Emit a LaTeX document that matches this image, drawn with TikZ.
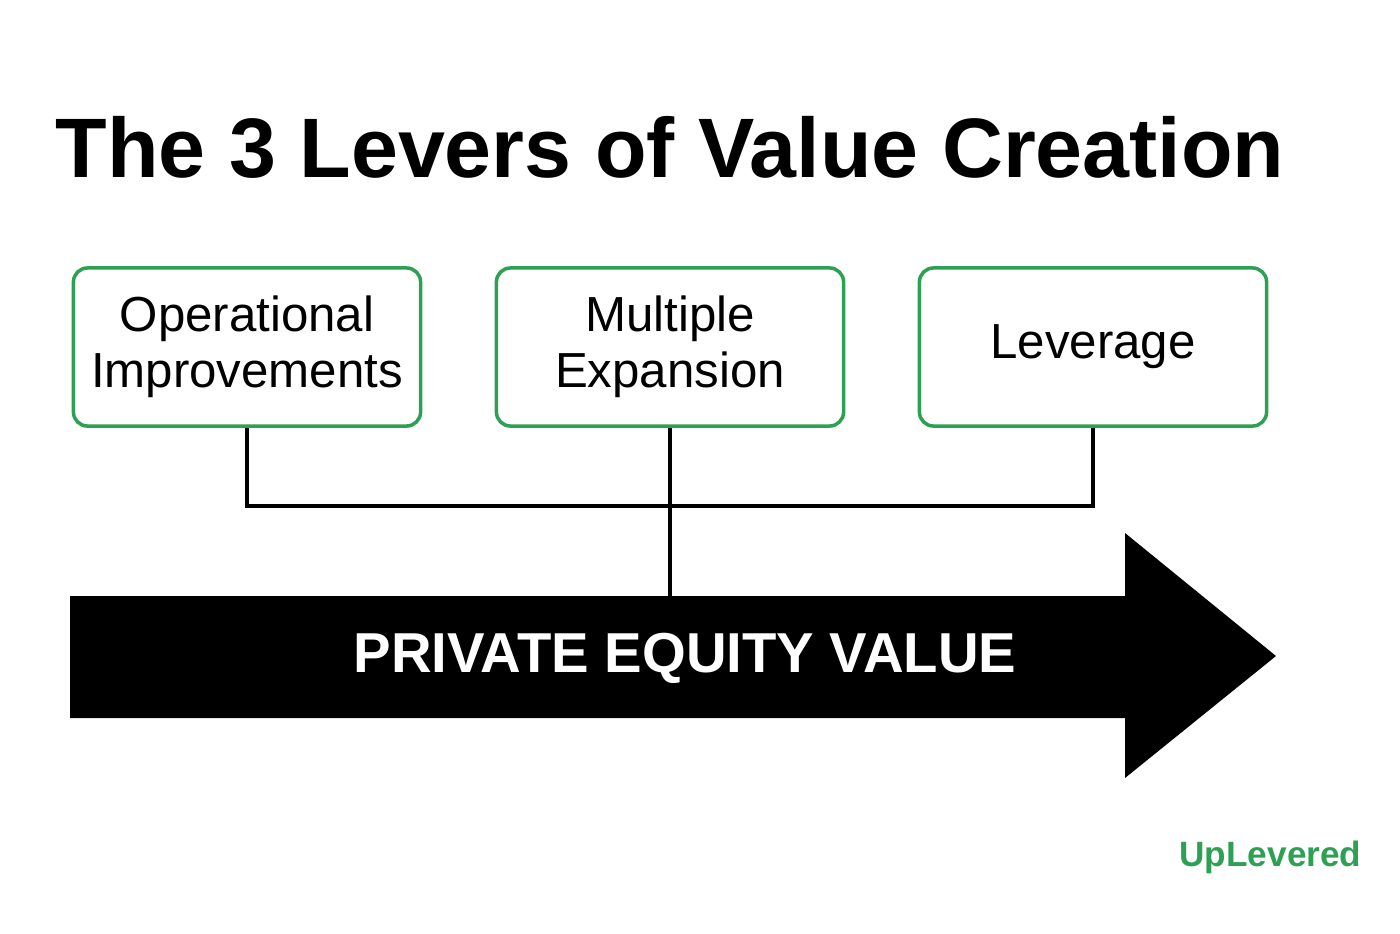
\documentclass[tikz,border=0pt]{standalone}
\usepackage{fontspec}
\setmainfont{Liberation Sans}
\usetikzlibrary{positioning}
\definecolor{levergreen}{RGB}{46,160,84}
\tikzset{
  lever/.style={draw=levergreen, line width=1pt, rounded corners=4pt,
    minimum width=3.47cm, minimum height=1.58cm, align=center,
    font=\fontsize{14}{16}\selectfont, text=black},
  link/.style={line width=0.9pt}
}
\begin{document}
\begin{tikzpicture}[x=0.01cm,y=-0.01cm]
                % canvas
                \useasboundingbox (0,0) rectangle (1400,933);

                % title
                \node[anchor=base west, inner sep=0pt, font=\bfseries\fontsize{24}{30}\selectfont] (title)
                    at (55,177) {The 3 Levers of Value Creation};

                % lever boxes
                \node[lever] (ops) at (247,347) {Operational\\Improvements};
                \node[lever] (mult) at (670,347) {Multiple\\Expansion};
                \node[lever] (lev) at (1093,347) {Leverage};

                % big arrow
                \fill (70,596) -- (1125,596) -- (1125,533) -- (1276,656)
                    -- (1125,778) -- (1125,718) -- (70,718) -- cycle;
                \node[text=white, font=\bfseries\fontsize{16}{20}\selectfont] (pe)
                    at (685,658) {PRIVATE EQUITY VALUE};
                \coordinate (arrowtop) at (670,596);

                % joining lines
                \coordinate (bus) at (670,506);
                \draw[link] (ops.south) |- (bus);
                \draw[link] (lev.south) |- (bus);
                \draw[link] (mult.south) -- (arrowtop);

                % brand
                \node[anchor=base east, inner sep=0pt, text=levergreen, font=\bfseries\fontsize{10}{13}\selectfont] (brand)
                    at (1362,866) {UpLevered};
\end{tikzpicture}
\end{document}
